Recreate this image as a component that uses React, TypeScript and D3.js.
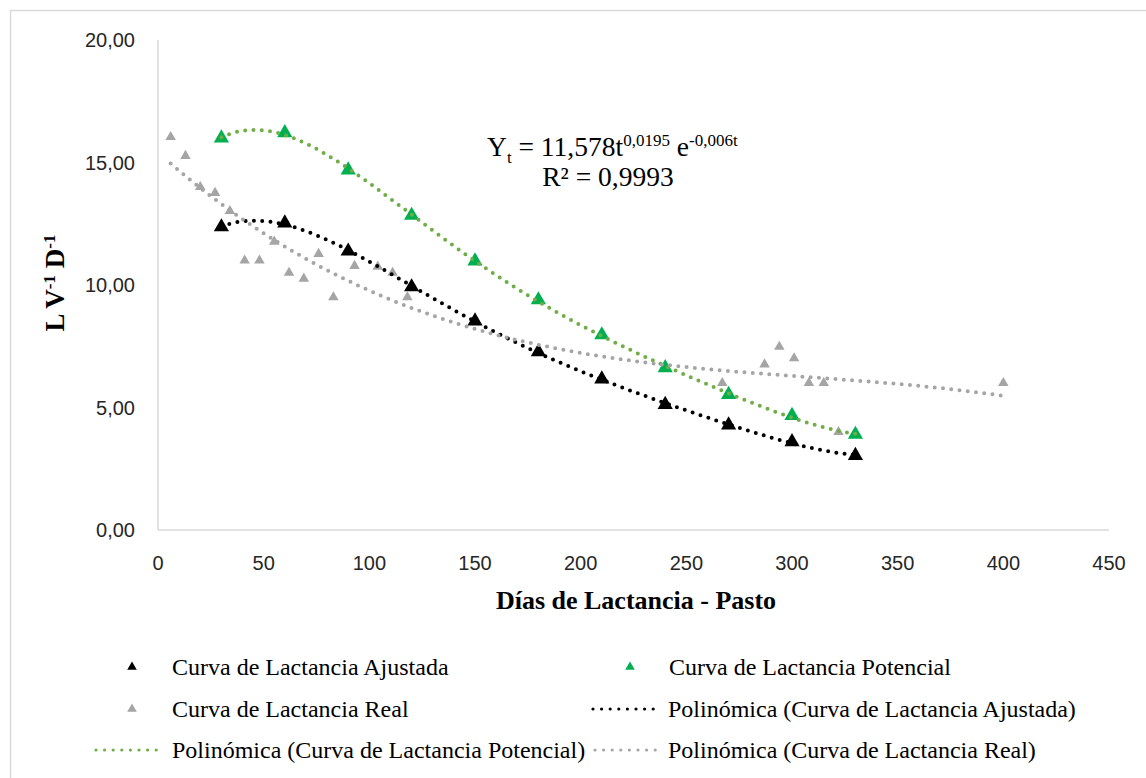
import React from "react";
import * as d3 from "d3";

// Días de lactancia de las curvas ajustada y potencial
const daysModel = [30, 60, 90, 120, 150, 180, 210, 240, 270, 300, 330];
const ajustada = [12.37, 12.53, 11.38, 9.92, 8.53, 7.27, 6.16, 5.12, 4.28, 3.6, 3.04];
const potencial = [16.0, 16.21, 14.69, 12.84, 10.98, 9.39, 7.96, 6.62, 5.53, 4.67, 3.9];

// Curva de lactancia real (pesajes individuales)
const daysReal = [6, 13, 20, 27, 34, 41, 48, 55, 62, 69, 76, 83, 93, 104, 111, 118, 267, 287, 294, 301, 308, 315, 322, 400];
const real = [16.04, 15.27, 14.0, 13.76, 13.02, 11.0, 11.0, 11.77, 10.5, 10.26, 11.27, 9.5, 10.78, 10.75, 10.5, 9.5, 6.0, 6.76, 7.48, 7.01, 6.0, 6.0, 4.0, 6.0];

const xTicks = [0, 50, 100, 150, 200, 250, 300, 350, 400, 450];
const yTicks = [0, 5, 10, 15, 20];

const BLACK = "#000000";
const GREEN = "#00B050";
const GREEN_LINE = "#70AD47";
const GRAY = "#A5A5A5";

const SERIF = "'Liberation Serif', 'Times New Roman', serif";
const SANS = "'Liberation Sans', Arial, sans-serif";

// Least-squares polynomial fit (same as a spreadsheet "Polinómica" trendline)
function polyfit(xs: number[], ys: number[], order: number) {
  const xm = d3.mean(xs) as number;
  const xs2 = d3.deviation(xs) as number;
  const n = order + 1;
  const A: number[][] = Array.from({ length: n }, () => new Array(n + 1).fill(0));
  xs.forEach((x0, k) => {
    const x = (x0 - xm) / xs2;
    for (let i = 0; i < n; i++) {
      for (let j = 0; j < n; j++) A[i][j] += Math.pow(x, i + j);
      A[i][n] += ys[k] * Math.pow(x, i);
    }
  });
  for (let c = 0; c < n; c++) {
    let p = c;
    for (let r = c + 1; r < n; r++) if (Math.abs(A[r][c]) > Math.abs(A[p][c])) p = r;
    [A[c], A[p]] = [A[p], A[c]];
    for (let r = 0; r < n; r++) {
      if (r === c) continue;
      const f = A[r][c] / A[c][c];
      for (let k = c; k <= n; k++) A[r][k] -= f * A[c][k];
    }
  }
  const coef = A.map((row, i) => row[n] / row[i]);
  return (x0: number) => {
    const x = (x0 - xm) / xs2;
    return coef.reduce((s, c, i) => s + c * Math.pow(x, i), 0);
  };
}

function trendPoints(xs: number[], ys: number[], order: number) {
  const f = polyfit(xs, ys, order);
  const lo = d3.min(xs) as number;
  const hi = d3.max(xs) as number;
  return d3.range(0, 201).map((i) => {
    const x = lo + ((hi - lo) * i) / 200;
    return [x, f(x)] as [number, number];
  });
}

export default function App() {
  const width = 1146;
  const height = 778;
  const x = d3.scaleLinear().domain([0, 450]).range([158, 1109]);
  const y = d3.scaleLinear().domain([0, 20]).range([530, 40]);
  const line = d3
    .line<[number, number]>()
    .x((d) => x(d[0]))
    .y((d) => y(d[1]))
    .curve(d3.curveLinear);

  const triBig = d3.symbol(d3.symbolTriangle, 100)() as string;
  const triSmall = d3.symbol(d3.symbolTriangle, 48)() as string;
  const triLegend = d3.symbol(d3.symbolTriangle, 40)() as string;

  const trends = [
    { pts: trendPoints(daysModel, ajustada, 5), color: BLACK },
    { pts: trendPoints(daysModel, potencial, 5), color: GREEN_LINE },
    { pts: trendPoints(daysReal, real, 3), color: GRAY },
  ];

  const dotted = { strokeWidth: 4, strokeDasharray: "0 8.3", strokeLinecap: "round" as const, fill: "none" };

  const legendRows = [
    { kind: "marker", color: BLACK, label: "Curva de Lactancia Ajustada", mx: 132, tx: 172, y: 667 },
    { kind: "marker", color: GREEN, label: "Curva de Lactancia Potencial", mx: 630, tx: 669, y: 667 },
    { kind: "marker", color: GRAY, label: "Curva de Lactancia Real", mx: 132, tx: 172, y: 709 },
    { kind: "line", color: BLACK, label: "Polinómica (Curva de Lactancia Ajustada)", lx: [593, 660], tx: 668, y: 709 },
    { kind: "line", color: GREEN_LINE, label: "Polinómica (Curva de Lactancia Potencial)", lx: [96, 158], tx: 172, y: 750 },
    { kind: "line", color: GRAY, label: "Polinómica (Curva de Lactancia Real)", lx: [595, 660], tx: 668, y: 750 },
  ];

  return (
    <svg
      width={width}
      height={height}
      style={{ position: "absolute", left: 0, top: 0, background: "#fff" }}
    >
      {/* chart frame */}
      <line x1={10} y1={10.5} x2={width} y2={10.5} stroke="#D9D9D9" strokeWidth={1.5} />
      <line x1={10.5} y1={10} x2={10.5} y2={height} stroke="#D9D9D9" strokeWidth={1.5} />

      {/* axes */}
      <line x1={x(0)} y1={y(0)} x2={x(450)} y2={y(0)} stroke="#D9D9D9" strokeWidth={1.5} />
      <line x1={x(0)} y1={y(0)} x2={x(0)} y2={y(20)} stroke="#D9D9D9" strokeWidth={1.5} />

      {yTicks.map((t) => (
        <text
          key={"y" + t}
          x={135}
          y={y(t)}
          textAnchor="end"
          dominantBaseline="central"
          fontFamily={SANS}
          fontSize={20}
          fill="#262626"
        >
          {d3.format(".2f")(t).replace(".", ",")}
        </text>
      ))}
      {xTicks.map((t) => (
        <text
          key={"x" + t}
          x={x(t)}
          y={563}
          textAnchor="middle"
          dominantBaseline="central"
          fontFamily={SANS}
          fontSize={20}
          fill="#262626"
        >
          {t}
        </text>
      ))}

      {/* axis titles */}
      <text x={636} y={609} textAnchor="middle" fontFamily={SERIF} fontWeight="bold" fontSize={26} fill="#000">
        Días de Lactancia - Pasto
      </text>
      <text
        transform="translate(64,283) rotate(-90)"
        textAnchor="middle"
        fontFamily={SERIF}
        fontWeight="bold"
        fontSize={27}
        fill="#000"
      >
        L V<tspan dy={-9} fontSize={17}>-1</tspan>
        <tspan dy={9}> D</tspan>
        <tspan dy={-9} fontSize={17}>-1</tspan>
      </text>

      {/* markers */}
      {daysModel.map((d, i) => (
        <path key={"a" + i} d={triBig} transform={`translate(${x(d)},${y(ajustada[i])})`} fill={BLACK} />
      ))}
      {daysModel.map((d, i) => (
        <path key={"p" + i} d={triBig} transform={`translate(${x(d)},${y(potencial[i])})`} fill={GREEN} />
      ))}
      {daysReal.map((d, i) => (
        <path key={"r" + i} d={triSmall} transform={`translate(${x(d)},${y(real[i])})`} fill={GRAY} />
      ))}

      {/* polynomial trendlines */}
      {trends.map((t, i) => (
        <path key={"t" + i} d={line(t.pts) as string} stroke={t.color} {...dotted} />
      ))}

      {/* equation */}
      <text x={487} y={156} fontFamily={SERIF} fontSize={27.5} fill="#000">
        Y<tspan dy={7} fontSize={17}>t</tspan>
        <tspan dy={-7}> = 11,578t</tspan>
        <tspan dy={-10} fontSize={17}>0,0195</tspan>
        <tspan dy={10}> e</tspan>
        <tspan dy={-10} fontSize={17}>-0,006t</tspan>
      </text>
      <text x={608} y={186} textAnchor="middle" fontFamily={SERIF} fontSize={27.5} fill="#000">
        R² = 0,9993
      </text>

      {/* legend */}
      {legendRows.map((r, i) => (
        <g key={"l" + i}>
          {r.kind === "marker" ? (
            <path d={triLegend} transform={`translate(${r.mx},${r.y})`} fill={r.color} />
          ) : (
            <line
              x1={(r.lx as number[])[0]}
              x2={(r.lx as number[])[1]}
              y1={r.y}
              y2={r.y}
              stroke={r.color}
              strokeWidth={3.2}
              strokeDasharray="0 8.6"
              strokeLinecap="round"
            />
          )}
          <text x={r.tx} y={r.y} dominantBaseline="central" fontFamily={SERIF} fontSize={24} fill="#000">
            {r.label}
          </text>
        </g>
      ))}
    </svg>
  );
}
